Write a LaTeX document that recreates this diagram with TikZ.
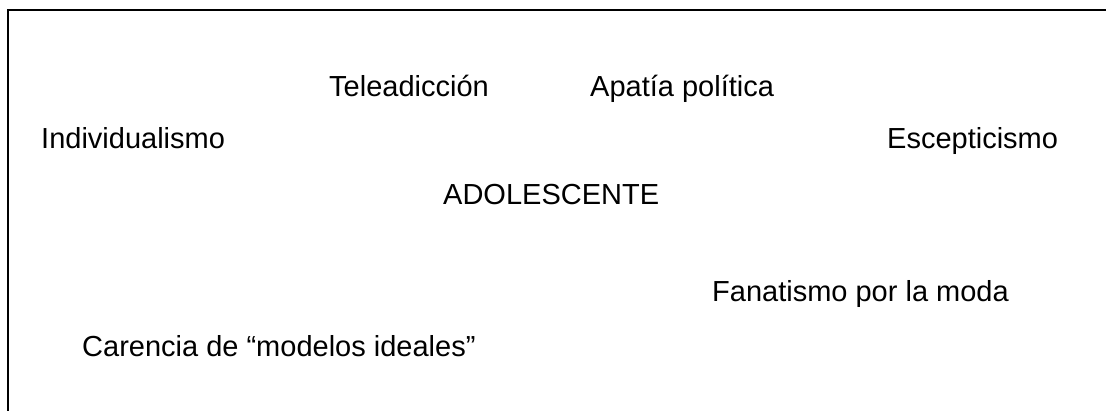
\documentclass[tikz,border=0pt]{standalone}
\usepackage{fontspec}
\setmainfont{Liberation Sans}
\usepackage{tikz}

\begin{document}
\begin{tikzpicture}[
    x=1pt, y=-1pt,
    label/.style={anchor=base west, inner sep=0pt, font=\fontsize{29}{34}\selectfont},
    frame/.style={draw=black, line width=1.5pt}
]
    \useasboundingbox (0,0) rectangle (1106,411);

    % Frame (left and top edges only)
    \coordinate (cornerbl) at (8,411);
    \coordinate (cornertl) at (8,10);
    \coordinate (cornertr) at (1106,10);
    \draw [frame] (cornerbl) -- (cornertl) -- (cornertr);

    % Centre
    \node [label] (adol) at (443,205) {ADOLESCENTE};

    % Top row
    \node [label] (tele) at (329,97) {Teleadicción};
    \node [label] (apatia) at (590,97) {Apatía política};

    % Middle row
    \node [label] (indiv) at (41,149) {Individualismo};
    \node [label] (escep) at (887,149) {Escepticismo};

    % Bottom
    \node [label] (fanat) at (712,302) {Fanatismo por la moda};
    \node [label] (carencia) at (82,357) {Carencia de “modelos ideales”};

\end{tikzpicture}
\end{document}
